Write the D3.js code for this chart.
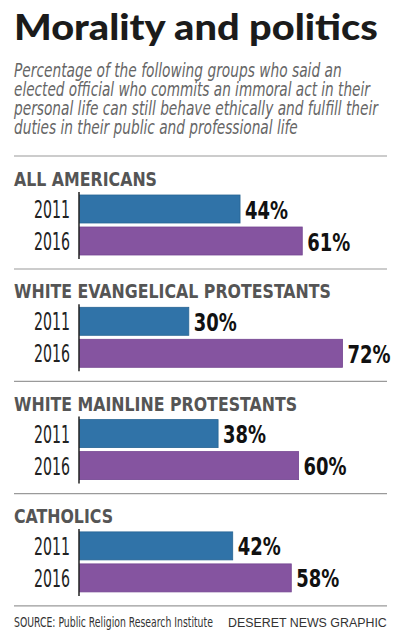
<!DOCTYPE html>
<html>
<head>
<meta charset="utf-8">
<script src="https://cdn.jsdelivr.net/npm/d3@7"></script>
<style>
  html, body { margin: 0; padding: 0; background: #fff; }
  svg { display: block; }
</style>
</head>
<body>
<svg id="chart" width="400" height="643"></svg>
<script>
// ---- Data ----
const groups = ["ALL AMERICANS", "WHITE EVANGELICAL PROTESTANTS", "WHITE MAINLINE PROTESTANTS", "CATHOLICS"];
const years = ["2011", "2016"];
const values2011 = [44, 30, 38, 42];
const values2016 = [61, 72, 60, 58];
const titleText = "Morality and politics";
const subtitleLines = [
  "Percentage of the following groups who said an",
  "elected official who commits an immoral act in their",
  "personal life can still behave ethically and fulfill their",
  "duties in their public and professional life"
];
const sourceText = "SOURCE: Public Religion Research Institute";
const creditText = "DESERET NEWS GRAPHIC";

// ---- Setup ----
const svg = d3.select("#chart");
const condFam = "'Liberation Sans Narrow','DejaVu Sans Condensed','Roboto','Liberation Sans',sans-serif";
const colors = { "2011": "#3073a8", "2016": "#8554a0" };
const strokes = { "2011": "#276493", "2016": "#744591" };

function measure(txt, size, weight, family, style) {
  const t = svg.append("text")
    .attr("font-size", size).attr("font-weight", weight)
    .attr("font-family", family).attr("font-style", style || "normal")
    .text(txt);
  const w = t.node().getComputedTextLength();
  t.remove();
  return w;
}

// place a text at (x,y) squeezed horizontally to a target width
function fitted(parent, txt, x, y, target, size, weight, family, style, fill) {
  const s = target / measure(txt, size, weight, family, style);
  return parent.append("text")
    .attr("transform", `translate(${x},${y}) scale(${s},1)`)
    .attr("font-size", size).attr("font-weight", weight)
    .attr("font-family", family).attr("font-style", style || "normal")
    .attr("fill", fill)
    .text(txt);
}

// Title
fitted(svg, titleText, 14, 40, 364, 36, 900, "Lato, Roboto, 'DejaVu Sans', sans-serif", "normal", "#1b1b1b");

// Subtitle
const subWidths = [328, 356, 364, 284];
subtitleLines.forEach((line, i) => {
  fitted(svg, line, 14, 77 + i * 19, subWidths[i], 19.5, "normal", condFam, "italic", "#666666");
});

// Separator under subtitle
svg.append("line")
  .attr("x1", 14).attr("x2", 387).attr("y1", 156).attr("y2", 156)
  .attr("stroke", "#9a9a9a").attr("stroke-width", 1.2);

// ---- Scales ----
const x = d3.scaleLinear().domain([0, 100]).range([79, 445]);
const yGroup = d3.scaleBand().domain(groups).range([160, 160 + 4 * 112.3]).paddingInner(0).paddingOuter(0);
const yYear = d3.scaleBand().domain(years).range([35, 95]).paddingInner(0.125).paddingOuter(0);

// condensing scale factors
const headScale = 143 / measure("ALL AMERICANS", 19.5, "bold", condFam);
const yearScale = 36 / measure("2011", 25, "normal", condFam);
const valScale = 43 / measure("44%", 25, "bold", condFam);

const data = groups.map((g, i) => ({
  group: g,
  bars: [
    { year: years[0], value: values2011[i] },
    { year: years[1], value: values2016[i] }
  ]
}));

const gGroups = svg.append("g").selectAll("g.group").data(data).join("g")
  .attr("class", "group")
  .attr("transform", d => `translate(0,${yGroup(d.group)})`);

// Heading
gGroups.append("text")
  .attr("transform", `translate(14,26) scale(${headScale},1)`)
  .attr("font-family", condFam)
  .attr("font-weight", "bold")
  .attr("font-size", 19.5)
  .attr("fill", "#555555")
  .text(d => d.group);

// Bars
gGroups.selectAll("rect").data(d => d.bars).join("rect")
  .attr("x", x(0) + 0.5)
  .attr("y", d => yYear(d.year))
  .attr("width", d => x(d.value) - x(0) - 0.5)
  .attr("height", yYear.bandwidth())
  .attr("fill", d => colors[d.year])
  .attr("stroke", d => strokes[d.year])
  .attr("stroke-width", 0.8);

// Year labels
gGroups.selectAll("text.year").data(d => d.bars).join("text")
  .attr("class", "year")
  .attr("transform", d => `translate(70,${yYear(d.year) + yYear.bandwidth() / 2 + 9}) scale(${yearScale},1)`)
  .attr("text-anchor", "end")
  .attr("font-family", condFam)
  .attr("font-size", 25)
  .attr("fill", "#222")
  .text(d => d.year);

// Value labels
gGroups.selectAll("text.val").data(d => d.bars).join("text")
  .attr("class", "val")
  .attr("transform", d => `translate(${x(d.value) + 5},${yYear(d.year) + yYear.bandwidth() / 2 + 9.5}) scale(${valScale},1)`)
  .attr("font-family", condFam)
  .attr("font-weight", "bold")
  .attr("font-size", 25)
  .attr("fill", "#111")
  .text(d => d.value + "%");

// Axis baseline
gGroups.append("line")
  .attr("x1", x(0)).attr("x2", x(0))
  .attr("y1", 32).attr("y2", 99)
  .attr("stroke", "#222").attr("stroke-width", 1.5);

// Separators
gGroups.append("line")
  .attr("x1", 14).attr("x2", 387)
  .attr("y1", 109).attr("y2", 109)
  .attr("stroke", "#9a9a9a").attr("stroke-width", 1.2);

// Footer
fitted(svg, sourceText, 14, 627, 199, 13.5, "normal", condFam, "normal", "#333");
fitted(svg, creditText, 228, 627, 159, 13, "normal", "'Liberation Sans', Arial, sans-serif", "normal", "#333");
</script>
</body>
</html>
